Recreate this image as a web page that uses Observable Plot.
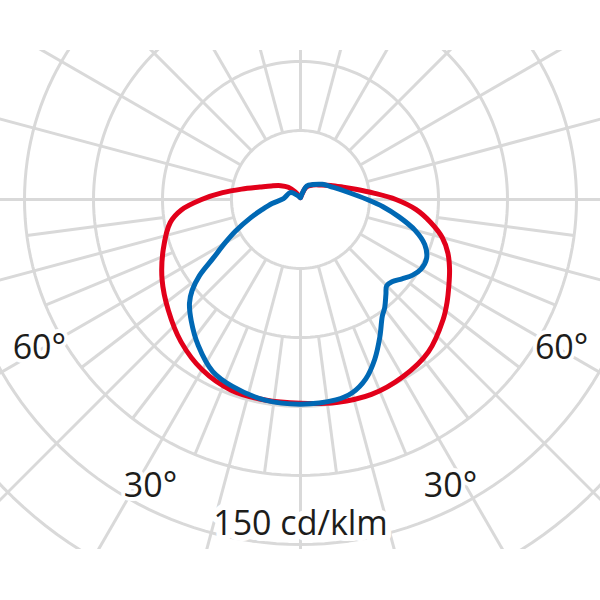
<!DOCTYPE html>
<html>
<head>
<meta charset="utf-8">
<script src="https://cdn.jsdelivr.net/npm/d3@7"></script>
<script src="https://cdn.jsdelivr.net/npm/@observablehq/plot@0.6"></script>
<style>
  html, body { margin: 0; padding: 0; background: #fff; }
  #chart { width: 600px; height: 600px; }
</style>
</head>
<body>
<div id="chart"></div>
<script>
// ---- Data (angle in degrees from nadir; negative = left half, positive = right half; values in cd/klm)
// C0-C180 plane (red)
const redAngles = [-180, -145, -135, -125, -115, -107, -100, -95, -90, -85, -80, -70, -60, -50, -40, -30, -20, -10, 0, 10, 20, 30, 40, 50, 55, 60, 65, 70, 75, 80, 85, 90, 95, 100, 106, 115, 125, 140, 155, 180];
const redValues = [0.8, 4, 7.5, 10.5, 14, 18.5, 26, 34, 43, 52, 57.5, 63.5, 69.5, 75, 80.8, 85.5, 88.2, 88.5, 88.6, 89.6, 90.2, 89, 86.5, 81, 77.8, 74.5, 71.5, 68.2, 63.8, 57.5, 50.5, 41.5, 32, 25, 19.4, 14.5, 11, 8.2, 6, 0.8];

// C90-C270 plane (blue)
const blueAngles = [-180, -125, -93, -82, -75, -70, -64, -60, -56, -53, -50, -47, -42, -35, -27, -20, -10, 0, 10, 15, 20, 25, 30, 35, 38, 42, 45, 48, 52, 56, 60, 65, 70, 75, 80, 85, 90, 100, 110, 125, 140, 155, 180];
const blueValues = [0.8, 5.3, 7.4, 12.5, 17.5, 23, 31.5, 38, 46, 55, 61.5, 66, 71, 77.5, 84, 86.5, 88.6, 89, 88.5, 87, 83, 76.5, 69, 62, 59.5, 55.5, 53, 53.5, 56, 58.8, 60.5, 60.5, 57.5, 51.5, 43.5, 36, 29, 20, 15.3, 11.5, 8.5, 6.5, 0.8];

// Grid
const ringValues = [30, 60, 90, 120, 150, 180];
const rayAngles = [-165, -150, -135, -120, -105, -90, -75, -60, -45, -30, -15, 0, 15, 30, 45, 60, 75, 90, 105, 120, 135, 150, 165, 180];
const subRayAngles = [-82.5, -67.5, -52.5, -37.5, -22.5, -7.5, 7.5, 22.5, 37.5, 52.5, 67.5, 82.5];
const angleLabels = ["60°", "30°", "30°", "60°"];
const angleLabelAngles = [-60, -30, 30, 60];
const unitLabel = "150 cd/klm";

// ---- Layout constants
const W = 600, H = 600;
const PX = 2.3;            // pixels per cd/klm
const CX = 300, CY = 199;  // pole position in pixels
const TOP = 50, BOTTOM = 549;
const RED = "#e2001a", BLUE = "#0068b4", GRID = "#d9d9d9";
const FONT = "'Open Sans', 'Noto Sans', sans-serif";

const rad = d => d * Math.PI / 180;
const polar = (deg, v) => ({x: v * Math.sin(rad(deg)), y: v * Math.cos(rad(deg))});

const red = redAngles.map((a, i) => ({...polar(a, redValues[i]), a}));
const blue = blueAngles.map((a, i) => ({...polar(a, blueValues[i]), a}));

const ringPts = ringValues.flatMap(r => d3.range(0, 361, 2).map(a => ({...polar(a, r), r})));
const seg = (a, r1, r2) => {
  const p1 = polar(a, r1), p2 = polar(a, r2);
  return {x1: p1.x, y1: p1.y, x2: p2.x, y2: p2.y};
};
const rays = rayAngles.map(a => seg(a, ringValues[0], 220))
  .concat(subRayAngles.map(a => seg(a, ringValues[1], ringValues[3])));

// label placement (style): radius and small angular offset for each label
const labelPlace = {"60": {r: 130.7, da: 0.3}, "30": {r: 140.8, da: -2.4}};
const labels = angleLabels.map((t, i) => {
  const a = angleLabelAngles[i];
  const pl = labelPlace[String(Math.abs(a))];
  const p = polar(a + Math.sign(a) * pl.da, pl.r);
  return {...p, t};
});
const unit = [{...polar(0, 141.3), t: unitLabel}];

const chart = Plot.plot({
  width: W,
  height: H,
  marginTop: TOP,
  marginBottom: H - BOTTOM,
  marginLeft: 0,
  marginRight: 0,
  style: {background: "#fff"},
  x: {domain: [-CX / PX, (W - CX) / PX], range: [0, W], axis: null},
  y: {domain: [(TOP - CY) / PX, (BOTTOM - CY) / PX], range: [TOP, BOTTOM], axis: null},
  marks: [
    Plot.line(ringPts, {x: "x", y: "y", z: "r", stroke: GRID, strokeWidth: 3, clip: true}),
    Plot.link(rays, {x1: "x1", y1: "y1", x2: "x2", y2: "y2", stroke: GRID, strokeWidth: 3, clip: true}),
    Plot.line(red, {x: "x", y: "y", stroke: RED, strokeWidth: 5, curve: "catmull-rom", strokeLinejoin: "round"}),
    Plot.line(blue, {x: "x", y: "y", stroke: BLUE, strokeWidth: 5, curve: "catmull-rom", strokeLinejoin: "round"}),
    Plot.text(labels, {x: "x", y: "y", text: "t", fontSize: 34, fontFamily: FONT, fill: "#1d1d1b", stroke: "white", strokeWidth: 8}),
    Plot.text(unit, {x: "x", y: "y", text: "t", fontSize: 34, fontFamily: FONT, fill: "#1d1d1b", stroke: "white", strokeWidth: 12})
  ]
});
document.getElementById("chart").appendChild(chart);
</script>
</body>
</html>
